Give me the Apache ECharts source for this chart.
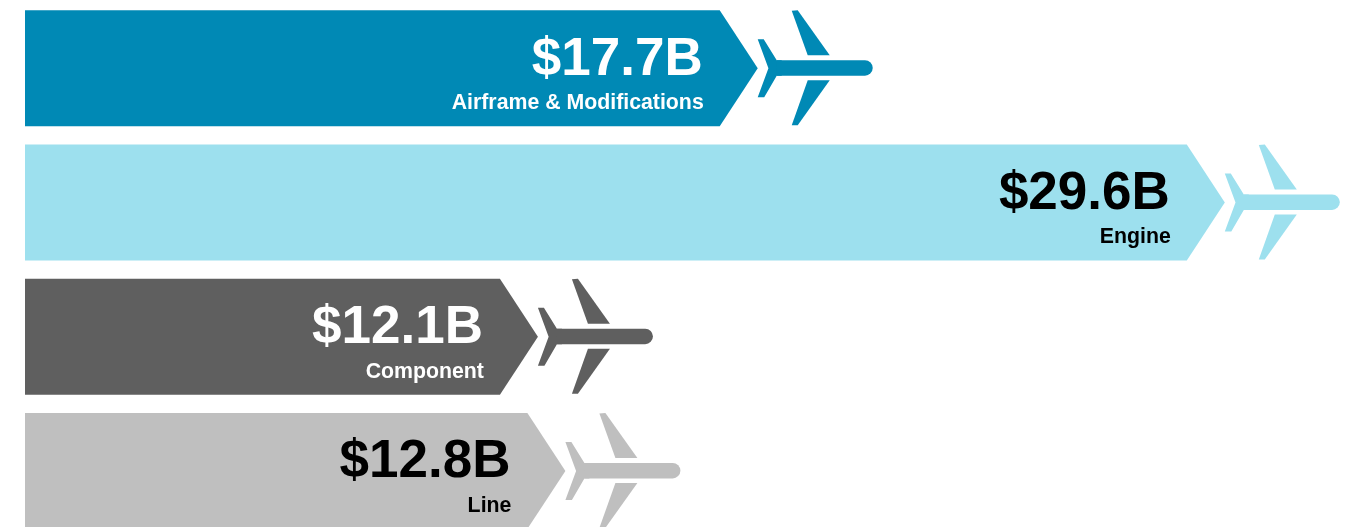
<!DOCTYPE html>
<html><head><meta charset="utf-8">
<style>html,body{margin:0;padding:0;background:#fff;overflow:hidden}#c{width:1356px;height:527px}</style>
<script src="https://cdn.jsdelivr.net/npm/echarts@6/dist/echarts.min.js"></script>
</head><body><div id="c"></div>
<script>
const categories = ['Airframe & Modifications', 'Engine', 'Component', 'Line'];
const values = [17.7, 29.6, 12.1, 12.8];
const barColors = ['#0089B5', '#9DE0EE', '#5F5F5F', '#BFBFBF'];
const textColors = ['#FFFFFF', '#000000', '#FFFFFF', '#000000'];

const FONT = '"Liberation Sans", Arial, sans-serif';
const TIP = 38, HALF = 58;

function renderItem(params, api) {
  const i = api.value(0), v = api.value(1);
  const start = api.coord([0, i]), end = api.coord([v, i]);
  const x0 = start[0], x1 = end[0], cy = end[1];
  const color = barColors[i], tc = textColors[i];
  const st = { fill: color };
  const plane = [
    { type: 'polygon', shape: { points: [[0,-29],[6,-29],[19,-8],[24,-8],[24,7.5],[19,7.5],[6.5,29],[0,29],[10.7,0]] }, style: st },
    { type: 'rect', shape: { x: 19, y: -8, width: 96, height: 15.5, r: [0,7.7,7.7,0] }, style: st },
    { type: 'polygon', shape: { points: [[34,-57.5],[40,-58],[72,-13],[50,-13]] }, style: st },
    { type: 'polygon', shape: { points: [[50,12],[72,12],[40,57],[34,57]] }, style: st }
  ];
  return {
    type: 'group',
    children: [
      { type: 'polygon', shape: { points: [[x0,cy-HALF],[x1,cy-HALF],[x1+TIP,cy],[x1,cy+HALF],[x0,cy+HALF]] }, style: st },
      { type: 'group', x: x1 + TIP, y: cy, children: plane },
      { type: 'text', style: { text: '$' + v.toFixed(1) + 'B', x: x1 - 17, y: cy - 8, textAlign: 'right', textVerticalAlign: 'middle', fill: tc, font: 'bold 53px ' + FONT } },
      { type: 'text', style: { text: categories[i], x: x1 - 16, y: cy + 35, textAlign: 'right', textVerticalAlign: 'middle', fill: tc, font: 'bold 21.3px ' + FONT } }
    ]
  };
}

const chart = echarts.init(document.getElementById('c'), null, { renderer: 'canvas' });
chart.setOption({
  animation: false,
  grid: { left: 25, top: 1, width: 1295.25, height: 537, outerBoundsMode: 'none' },
  xAxis: { type: 'value', min: 0, max: 33, show: false },
  yAxis: { type: 'category', inverse: true, data: categories, show: false },
  series: [{
    type: 'custom',
    clip: false,
    renderItem,
    encode: { x: 1, y: 0 },
    data: values.map((v, i) => [i, v])
  }]
});
</script></body></html>
